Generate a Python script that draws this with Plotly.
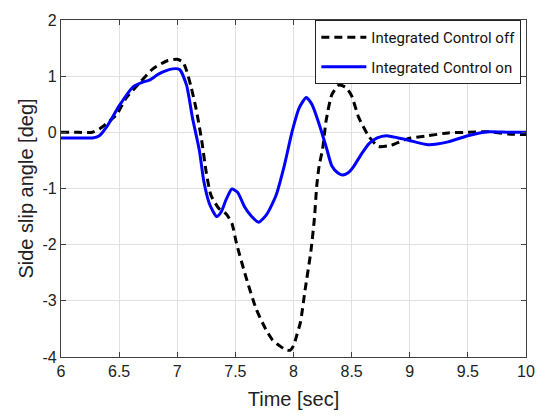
import plotly.graph_objects as go

# Integrated Control off (black dashed)
t_off = [6.0, 6.15, 6.27, 6.33, 6.40, 6.48, 6.56, 6.68, 6.79, 6.91, 7.0, 7.05, 7.08, 7.12, 7.16, 7.21, 7.25, 7.29,
         7.36, 7.42, 7.47, 7.51, 7.59, 7.68, 7.76, 7.82, 7.88, 7.93, 7.97, 8.0, 8.03, 8.06, 8.10, 8.15, 8.18, 8.20,
         8.22, 8.25, 8.28, 8.33, 8.39, 8.45, 8.50, 8.56, 8.65, 8.73, 8.84, 8.99, 9.16, 9.33, 9.50, 9.67, 9.85, 10.0]
y_off = [0.0, 0.0, 0.0, 0.06, 0.17, 0.32, 0.61, 0.89, 1.13, 1.27, 1.30, 1.25, 1.10, 0.80, 0.44, -0.14, -0.72, -1.12,
         -1.36, -1.45, -1.62, -1.98, -2.57, -3.15, -3.50, -3.70, -3.80, -3.87, -3.88, -3.80, -3.60, -3.38, -2.80, -2.11, -1.53, -0.95,
         -0.60, -0.30, 0.20, 0.67, 0.84, 0.80, 0.65, 0.27, -0.08, -0.25, -0.23, -0.11, -0.06, -0.01, 0.0, 0.01, -0.03, -0.04]

# Integrated Control on (blue solid)
t_on = [6.0, 6.15, 6.27, 6.33, 6.40, 6.50, 6.62, 6.70, 6.76, 6.85, 6.96, 7.02, 7.08, 7.13, 7.19, 7.23, 7.28, 7.34,
        7.38, 7.42, 7.47, 7.52, 7.58, 7.64, 7.70, 7.77, 7.85, 7.92, 7.99, 8.05, 8.11, 8.16, 8.22, 8.28, 8.33, 8.38,
        8.42, 8.47, 8.52, 8.58, 8.65, 8.72, 8.80, 8.90, 8.99, 9.16, 9.33, 9.50, 9.67, 9.85, 10.0]
y_on = [-0.1, -0.1, -0.1, -0.06, 0.12, 0.47, 0.81, 0.89, 0.93, 1.05, 1.13, 1.12, 0.84, 0.27, -0.32, -0.89, -1.29, -1.50,
        -1.41, -1.20, -1.01, -1.07, -1.33, -1.50, -1.60, -1.46, -1.12, -0.60, 0.03, 0.44, 0.62, 0.49, 0.15, -0.25, -0.60, -0.72,
        -0.76, -0.72, -0.60, -0.40, -0.20, -0.10, -0.06, -0.10, -0.14, -0.22, -0.17, -0.06, 0.01, 0.0, 0.0]

x_ticks = [6, 6.5, 7, 7.5, 8, 8.5, 9, 9.5, 10]
x_labels = ["6", "6.5", "7", "7.5", "8", "8.5", "9", "9.5", "10"]
y_ticks = [-4, -3, -2, -1, 0, 1, 2]
y_labels = ["-4", "-3", "-2", "-1", "0", "1", "2"]

fig = go.Figure()
fig.add_trace(go.Scatter(x=t_off, y=y_off, mode="lines", name="Integrated Control off", legendgroup="off",
                         line=dict(color="black", width=3, dash="8px,5px", shape="spline", smoothing=0.6)))
fig.add_trace(go.Scatter(x=t_on, y=y_on, mode="lines", name="Integrated Control on", legendgroup="on",
                         line=dict(color="#0000ff", width=3, shape="spline", smoothing=0.6)))

axis_common = dict(showline=True, linecolor="#404040", linewidth=1.2, mirror="ticks",
                   ticks="inside", ticklen=5, tickcolor="#404040",
                   showgrid=True, gridcolor="#e0e0e0", gridwidth=1, zeroline=False,
                   tickfont=dict(family="Liberation Sans, Arial", size=16, color="#222222"))

fig.update_layout(
    width=547, height=418,
    margin=dict(l=61, r=19, t=13, b=59),
    paper_bgcolor="white", plot_bgcolor="white",
    xaxis=dict(range=[6, 10], tickvals=x_ticks, ticktext=x_labels,
               title=dict(text="Time [sec]", font=dict(family="Liberation Sans, Arial", size=20, color="#222222"), standoff=12),
               **axis_common),
    yaxis=dict(range=[-4, 2], tickvals=y_ticks, ticktext=y_labels,
               title=dict(text="Side slip angle [deg]", font=dict(family="Liberation Sans, Arial", size=20, color="#222222"), standoff=3),
               **axis_common),
    legend=dict(x=0.99, y=1.0, xanchor="right", yanchor="top",
                bgcolor="white", bordercolor="#222222", borderwidth=1,
                font=dict(family="Roboto, sans-serif", size=15, color="#111111"),
                itemwidth=45, traceorder="grouped", tracegroupgap=7),
    showlegend=True,
)

fig.write_html("out.html")
